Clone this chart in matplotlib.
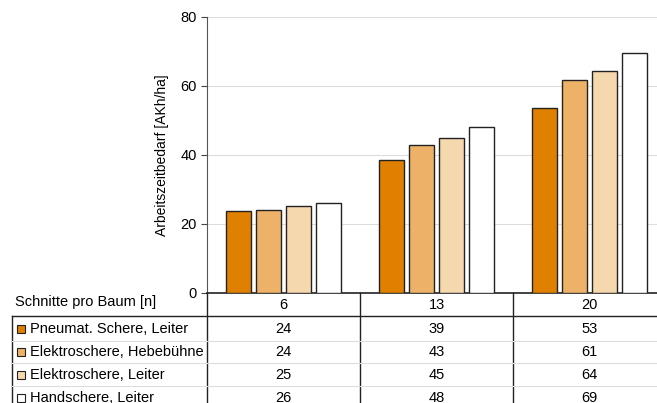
import matplotlib
matplotlib.use('Agg')
import matplotlib.pyplot as plt
import matplotlib.transforms as mtransforms
from matplotlib.lines import Line2D
from matplotlib.patches import Rectangle
import numpy as np

plt.rcParams['font.family'] = ['Liberation Sans', 'DejaVu Sans']

cuts = ['6', '13', '20']
series = ['Pneumat. Schere, Leiter', 'Elektroschere, Hebebühne',
          'Elektroschere, Leiter', 'Handschere, Leiter']
pneumat = [23.8, 38.6, 53.4]
elektro_hebe = [24.0, 42.9, 61.6]
elektro_leiter = [25.1, 44.8, 64.4]
hand = [25.9, 47.9, 69.5]
table_vals = [[24, 39, 53], [24, 43, 61], [25, 45, 64], [26, 48, 69]]
colors = ['#E08000', '#EDB268', '#F6D8AF', '#FFFFFF']

W, H = 657, 403
fig = plt.figure(figsize=(W / 100, H / 100), dpi=100)
ax = fig.add_axes([207 / W, 1 - 292.7 / H, 1 - 207 / W, (292.7 - 16.7) / H])

x = np.arange(len(cuts))
width = 0.165
step = 0.197
for i, vals in enumerate([pneumat, elektro_hebe, elektro_leiter, hand]):
    ax.bar(x + (i - 1.5) * step, vals, width, color=colors[i],
           edgecolor='#222222', linewidth=1.0, zorder=3)

ax.set_xlim(-0.5, -0.5 + 450 / 153)
ax.set_ylim(0, 80)
ax.set_yticks([0, 20, 40, 60, 80])
ax.yaxis.grid(True, color='#dddddd', linewidth=0.8, zorder=0)
ax.set_xticks([])
ax.tick_params(axis='y', length=4, labelsize=10.5, color='#444444')
for s in ['top', 'right']:
    ax.spines[s].set_visible(False)
ax.spines['left'].set_color('#555555')
ax.spines['bottom'].set_color('#222222')
ax.spines['bottom'].set_linewidth(1.2)
ax.set_ylabel('Arbeitszeitbedarf [AKh/ha]', fontsize=10, labelpad=8)

# table below the chart
tr = mtransforms.blended_transform_factory(ax.transData, fig.transFigure)
fy = lambda py: 1 - py / H
fx = lambda px: px / W

# vertical separators
for b in [-0.5, 0.5, 1.5]:
    fig.add_artist(Line2D([b, b], [fy(292.7), fy(403)], transform=tr,
                          color='#222222', linewidth=1.0))
fig.add_artist(Line2D([fx(12), fx(12)], [fy(316), fy(403)],
                      color='#222222', linewidth=1.0))
fig.add_artist(Line2D([fx(12), 1], [fy(316), fy(316)],
                      color='#222222', linewidth=1.0))
for py in [340.5, 363.3, 386]:
    fig.add_artist(Line2D([fx(12), 1], [fy(py), fy(py)],
                          color='#dddddd', linewidth=0.8))

fig.text(fx(15), fy(302), 'Schnitte pro Baum [n]', fontsize=10.5,
         va='center', ha='left')
for j, c in enumerate(cuts):
    fig.text(j, fy(305), c, transform=tr, fontsize=10.5, ha='center', va='center')

row_y = [329, 352, 375, 398]
for i, name in enumerate(series):
    fig.add_artist(Rectangle((fx(16.5), fy(row_y[i] + 4)), 8 / W, 8 / H,
                             transform=fig.transFigure, facecolor=colors[i],
                             edgecolor='#222222', linewidth=0.8))
    fig.text(fx(30), fy(row_y[i]), name, fontsize=10.5, ha='left', va='center')
    for j, v in enumerate(table_vals[i]):
        fig.text(j, fy(row_y[i]), str(v), transform=tr, fontsize=10.5,
                 ha='center', va='center')

fig.savefig('out.png', dpi=100)
